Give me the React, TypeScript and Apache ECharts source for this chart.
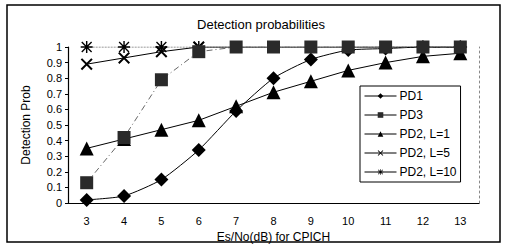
import React, { useEffect, useRef } from "react";
import * as echarts from "echarts";

const categories = ["3", "4", "5", "6", "7", "8", "9", "10", "11", "12", "13"];
const pd1 = [0.02, 0.045, 0.15, 0.34, 0.59, 0.8, 0.92, 0.98, 0.99, 1, 1];
const pd3 = [0.13, 0.42, 0.79, 0.97, 1, 1, 1, 1, 1, 1, 1];
const pd2L1 = [0.35, 0.41, 0.47, 0.53, 0.62, 0.71, 0.78, 0.85, 0.9, 0.94, 0.96];
const pd2L5 = [0.89, 0.93, 0.97, 1, 1, 1, 1, 1, 1, 1, 1];
const pd2L10 = [1, 1, 1, 1, 1, 1, 1, 1, 1, 1, 1];
const legendNames = ["PD1", "PD3", "PD2, L=1", "PD2, L=5", "PD2, L=10"];

const xPath =
  "path://M0,1.2 L1.2,0 L10,8.8 L8.8,10 Z M8.8,0 L10,1.2 L1.2,10 L0,8.8 Z";
const starPath =
  "path://M0,4.4 L10,4.4 L10,5.6 L0,5.6 Z M4.4,0 L5.6,0 L5.6,10 L4.4,10 Z M0.5,1.3 L1.3,0.5 L9.5,8.7 L8.7,9.5 Z M8.7,0.5 L9.5,1.3 L1.3,9.5 L0.5,8.7 Z";

export default function App() {
  const ref = useRef<HTMLDivElement>(null);
  useEffect(() => {
    if (!ref.current) return;
    const chart = echarts.init(ref.current, null, { renderer: "svg" });
    const font = "Arial, 'Liberation Sans', sans-serif";
    chart.setOption({
      animation: false,
      backgroundColor: "#fff",
      textStyle: { fontFamily: font },
      title: {
        text: "Detection probabilities",
        left: 256,
        top: 13,
        textAlign: "center",
        textStyle: { fontSize: 13, fontWeight: "normal", color: "#000", fontFamily: font },
      },
      grid: { left: 68, right: 30, top: 47, bottom: 45, containLabel: false },
      legend: {
        data: legendNames.map((n) => ({
          name: n,
          lineStyle: { type: "solid", color: "#000", width: 1 },
        })),
        orient: "vertical",
        left: 360,
        top: 86,
        itemWidth: 32,
        itemHeight: 7,
        itemGap: 7,
        padding: [4, 4, 4, 4],
        borderColor: "#000",
        borderWidth: 1,
        backgroundColor: "#fff",
        textStyle: { fontSize: 12, color: "#000", fontFamily: font, padding: [0, 0, 0, -2] },
      },
      xAxis: {
        type: "category",
        data: categories,
        boundaryGap: true,
        name: "Es/No(dB) for CPICH",
        nameLocation: "middle",
        nameGap: 27,
        nameTextStyle: { fontSize: 12, color: "#000", fontFamily: font },
        axisLine: { lineStyle: { color: "#000", width: 1.2 } },
        axisTick: { inside: true, length: 3, lineStyle: { color: "#000" } },
        axisLabel: { fontSize: 11, color: "#000", margin: 12 },
      },
      yAxis: [
        {
          type: "value",
          min: 0,
          max: 1,
          interval: 0.1,
          name: "Detection Prob",
          nameLocation: "middle",
          nameGap: 36,
          nameTextStyle: { fontSize: 12, color: "#000", fontFamily: font },
          axisLine: { show: true, lineStyle: { color: "#000", width: 1.2 } },
          axisTick: { show: true, length: 3, lineStyle: { color: "#000" } },
          axisLabel: {
            fontSize: 11,
            color: "#000",
            margin: 6,
            formatter: (v: number) => String(Math.round(v * 10) / 10),
          },
          splitLine: { show: false },
        },
        {
          type: "value",
          min: 0,
          max: 1,
          interval: 0.1,
          position: "right",
          axisLine: { show: true, lineStyle: { color: "#888", type: [2, 3], width: 1 } },
          axisTick: { show: false },
          axisLabel: { show: false },
          splitLine: { show: false },
        },
      ],
      series: [
        {
          name: "PD2, L=10",
          type: "line",
          data: pd2L10,
          symbol: starPath,
          symbolSize: 12,
          itemStyle: { color: "#000" },
          lineStyle: { color: "#777", width: 1, type: [2, 1] },
          z: 2,
        },
        {
          name: "PD2, L=5",
          type: "line",
          data: pd2L5,
          symbol: xPath,
          symbolSize: 12,
          itemStyle: { color: "#000" },
          lineStyle: { color: "#000", width: 1 },
          z: 3,
        },
        {
          name: "PD1",
          type: "line",
          data: pd1,
          symbol: "diamond",
          symbolSize: 14,
          smooth: 0.2,
          itemStyle: { color: "#000" },
          lineStyle: { color: "#000", width: 1 },
          z: 4,
        },
        {
          name: "PD2, L=1",
          type: "line",
          data: pd2L1,
          symbol: "triangle",
          symbolSize: 14,
          itemStyle: { color: "#000" },
          lineStyle: { color: "#000", width: 1 },
          z: 5,
        },
        {
          name: "PD3",
          type: "line",
          data: pd3,
          symbol: "rect",
          symbolSize: 13,
          itemStyle: { color: "#2a2a2a" },
          lineStyle: { color: "#666", width: 1, type: [6, 3, 1, 3] },
          z: 6,
        },
      ],
      graphic: [
        {
          type: "rect",
          shape: { x: 7, y: 5, width: 493, height: 237 },
          style: { fill: "none", stroke: "#000", lineWidth: 1.5 },
          silent: true,
        },
      ],
    });
    return () => chart.dispose();
  }, []);
  return (
    <div
      ref={ref}
      style={{ position: "absolute", left: 0, top: 0, width: 509, height: 248 }}
    />
  );
}
